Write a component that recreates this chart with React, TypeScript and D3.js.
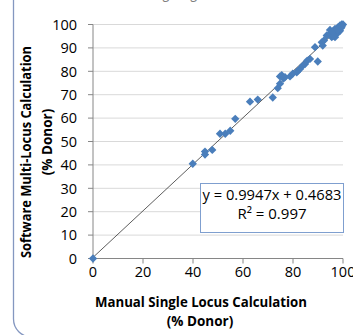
import React from "react";
import * as d3 from "d3";

const manual = [0, 39.9, 44.8, 44.8, 47.7, 50.8, 52.9, 54.9, 56.9, 62.8, 65.9, 71.9, 73.9, 74.8, 74.8, 75.5, 76.2, 76.8, 78.8, 79.9, 81.5, 82.1, 82.8, 84.0, 84.8, 85.7, 86.8, 89.9, 88.8, 91.9, 91.5, 92.4, 93.5, 94.8, 95.5, 96.1, 94.8, 96.8, 98.1, 98.8, 99.5, 100, 97.5, 96.8, 98.1, 98.8, 96.1, 97.0, 99.2, 95.8, 97.8, 99.5];
const software = [0, 40.5, 45.7, 44.4, 46.4, 53.3, 53.3, 54.6, 59.7, 67.0, 67.9, 68.8, 72.8, 74.7, 77.8, 78.3, 76.9, 77.5, 77.8, 79.0, 79.6, 80.3, 81.0, 82.5, 83.1, 84.6, 85.3, 84.2, 90.3, 91.0, 92.4, 93.2, 95.3, 96.0, 94.6, 96.7, 97.7, 98.1, 98.9, 99.6, 100, 100, 96.0, 94.6, 96.7, 97.3, 95.3, 97.5, 98.5, 97.0, 97.8, 99.0];
const xTicks = [0, 20, 40, 60, 80, 100];
const yTicks = [0, 10, 20, 30, 40, 50, 60, 70, 80, 90, 100];
const slope = 0.9947;
const intercept = 0.4683;
const eqLine1 = "y = 0.9947x + 0.4683";
const eqLine2 = "R² = 0.997";

export default function App() {
  const x = d3.scaleLinear().domain([0, 100]).range([93, 343]);
  const y = d3.scaleLinear().domain([0, 100]).range([258.5, 24.5]);
  const font = "'Open Sans', sans-serif";
  const diamond = d3.symbol().type(d3.symbolDiamond2).size(44)();
  const trend = d3.line<number>().x((d) => x(d)).y((d) => y(slope * d + intercept));
  return (
    <svg width={353} height={335} style={{ position: "absolute", left: 0, top: 0 }} fontFamily={font}>
      <rect x={0} y={0} width={353} height={335} fill="#fff" />
      <rect x={13.5} y={-30} width={400} height={367} rx={18} fill="none" stroke="#8497c0" strokeWidth={1.3} />
      <text x={68} y={-2} fontSize={15} fill="#7f7f7f" textLength={225} lengthAdjust="spacingAndGlyphs">Correlation Using Single vs Multi-Locus</text>
      {yTicks.map((t) => (
        <line key={"g" + t} x1={x(0)} x2={x(100)} y1={y(t)} y2={y(t)} stroke="#d9d9d9" strokeWidth={1} />
      ))}
      {yTicks.map((t) => (
        <line key={"yt" + t} x1={x(0) - 5} x2={x(0)} y1={y(t)} y2={y(t)} stroke="#868686" />
      ))}
      {xTicks.map((t) => (
        <line key={"xt" + t} x1={x(t)} x2={x(t)} y1={y(0)} y2={y(0) + 5} stroke="#868686" />
      ))}
      <line x1={x(0)} x2={x(0)} y1={y(100)} y2={y(0)} stroke="#868686" />
      <line x1={x(0)} x2={x(100)} y1={y(0)} y2={y(0)} stroke="#868686" />
      {yTicks.map((t) => (
        <text key={"yl" + t} x={77} y={y(t)} dy="0.36em" textAnchor="end" fontSize={14.5} fill="#000">{t}</text>
      ))}
      {xTicks.map((t) => (
        <text key={"xl" + t} x={x(t)} y={277} textAnchor="middle" fontSize={14.5} fill="#000">{t}</text>
      ))}
      <path d={trend([0, 100]) || ""} fill="none" stroke="#333" strokeWidth={0.8} />
      {manual.map((m, i) => (
        <path key={"p" + i} d={diamond} transform={`translate(${x(m)},${y(software[i])})`} fill="#4a7ebb" />
      ))}
      <rect x={200.5} y={183.5} width={143} height={49} fill="#fff" stroke="#7f9fcf" strokeWidth={1} />
      <text x={272} y={200} textAnchor="middle" fontSize={15} fill="#000" textLength={139} lengthAdjust="spacingAndGlyphs">{eqLine1}</text>
      <text x={272} y={219} textAnchor="middle" fontSize={15} fill="#000">{eqLine2}</text>
      <text x={201} y={307} textAnchor="middle" fontSize={13.5} fontWeight="bold" fill="#000" textLength={212} lengthAdjust="spacingAndGlyphs">Manual  Single Locus Calculation</text>
      <text x={200} y={326} textAnchor="middle" fontSize={13.5} fontWeight="bold" fill="#000">(% Donor)</text>
      <g transform="translate(31,152) rotate(-90)">
        <text x={0} y={0} textAnchor="middle" fontSize={13.5} fontWeight="bold" fill="#000" textLength={212} lengthAdjust="spacingAndGlyphs">Software Multi-Locus Calculation</text>
      </g>
      <g transform="translate(52,142) rotate(-90)">
        <text x={0} y={0} textAnchor="middle" fontSize={13.5} fontWeight="bold" fill="#000">(% Donor)</text>
      </g>
    </svg>
  );
}
